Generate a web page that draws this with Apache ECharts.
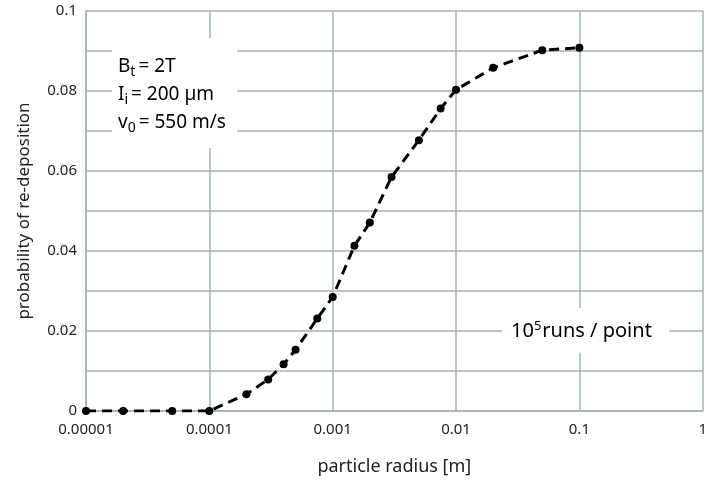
<!DOCTYPE html>
<html><head><meta charset="utf-8">
<script src="https://cdn.jsdelivr.net/npm/echarts@6/dist/echarts.min.js"></script>
<style>html,body{margin:0;padding:0;background:#fff}#c{width:710px;height:485px}</style>
</head><body><div id="c"></div>
<script>
const radius = [0.00001, 0.00002, 0.00005, 0.0001, 0.0002, 0.0003, 0.0004, 0.0005, 0.00075, 0.001, 0.0015, 0.002, 0.003, 0.005, 0.0075, 0.01, 0.02, 0.05, 0.1];
const probability = [0, 0, 0, 0, 0.0042, 0.0079, 0.0117, 0.0153, 0.0231, 0.0285, 0.0413, 0.0471, 0.0585, 0.0677, 0.0756, 0.0803, 0.0858, 0.0902, 0.0908];
const xTickLabels = ['0.00001', '0.0001', '0.001', '0.01', '0.1', '1'];
const yTickLabels = ['0', '0.02', '0.04', '0.06', '0.08', '0.1'];

const chart = echarts.init(document.getElementById('c'), null, {renderer: 'canvas'});
const gridColor = '#a3b3b3';
const font = 'Noto Sans';
const txt = '#222';
const rich = (big, small) => ({
  m: {fontFamily: font, fontSize: big, color: txt, verticalAlign: 'bottom', height: 26},
  s: {fontFamily: font, fontSize: small, color: txt, verticalAlign: 'bottom', height: 26, padding: [0, 3, -6, 0]}
});
chart.setOption({
  animation: false,
  grid: {left: 86, right: 1, top: 11, bottom: 74, containLabel: false},
  xAxis: {
    type: 'log', logBase: 10, min: 0.00001, max: 1,
    name: 'particle radius [m]', nameLocation: 'middle', nameGap: 47,
    nameTextStyle: {fontFamily: font, fontSize: 18, color: txt},
    axisLine: {show: true, lineStyle: {color: gridColor, width: 1.5}},
    axisTick: {show: false},
    splitLine: {show: true, lineStyle: {color: gridColor, width: 1.5}},
    minorSplitLine: {show: false},
    axisLabel: {
      fontFamily: font, fontSize: 15, color: txt, margin: 11,
      formatter: v => xTickLabels[Math.round(Math.log10(v)) + 5] || ''
    }
  },
  yAxis: {
    type: 'value', min: 0, max: 0.1, interval: 0.01,
    name: 'probability of re-deposition', nameLocation: 'middle', nameGap: 53,
    nameTextStyle: {fontFamily: font, fontSize: 17, color: txt},
    axisLine: {show: true, lineStyle: {color: gridColor, width: 1.5}},
    axisTick: {show: false},
    splitLine: {show: true, lineStyle: {color: gridColor, width: 1.5}},
    axisLabel: {
      fontFamily: font, fontSize: 15, color: txt, margin: 9,
      formatter: v => {
        const k = Math.round(v * 100);
        return k % 2 === 0 ? yTickLabels[k / 2] : '';
      }
    }
  },
  series: [{
    type: 'line',
    data: radius.map((r, i) => [r, probability[i]]),
    symbol: 'circle', symbolSize: 8,
    itemStyle: {color: '#000'},
    lineStyle: {color: '#000', width: 3, type: [10, 6]},
    z: 5
  }],
  graphic: [
    {type: 'rect', shape: {x: 112, y: 38, width: 125, height: 110}, style: {fill: '#fff'}, z: 3},
    {type: 'rect', shape: {x: 502, y: 308, width: 167, height: 45}, style: {fill: '#fff'}, z: 3},
    {type: 'text', left: 118, top: 57, z: 4, style: {text: '{m|B}{s|t}{m|= 2T}', rich: rich(19, 14)}},
    {type: 'text', left: 118, top: 85, z: 4, style: {text: '{m|I}{s|i}{m|= 200 µm}', rich: rich(19, 14)}},
    {type: 'text', left: 118, top: 113, z: 4, style: {text: '{m|v}{s|0}{m|= 550 m/s}', rich: rich(19, 14)}},
    {type: 'text', left: 511, top: 320, z: 4, style: {
      text: '{m|10}{p|5}{m|runs / point}', rich: {
        m: {fontFamily: font, fontSize: 20, color: txt, verticalAlign: 'bottom', height: 28},
        p: {fontFamily: font, fontSize: 13, color: txt, verticalAlign: 'bottom', height: 28, padding: [0, 1, 5, 0]}
      }}}
  ]
});
</script></body></html>
